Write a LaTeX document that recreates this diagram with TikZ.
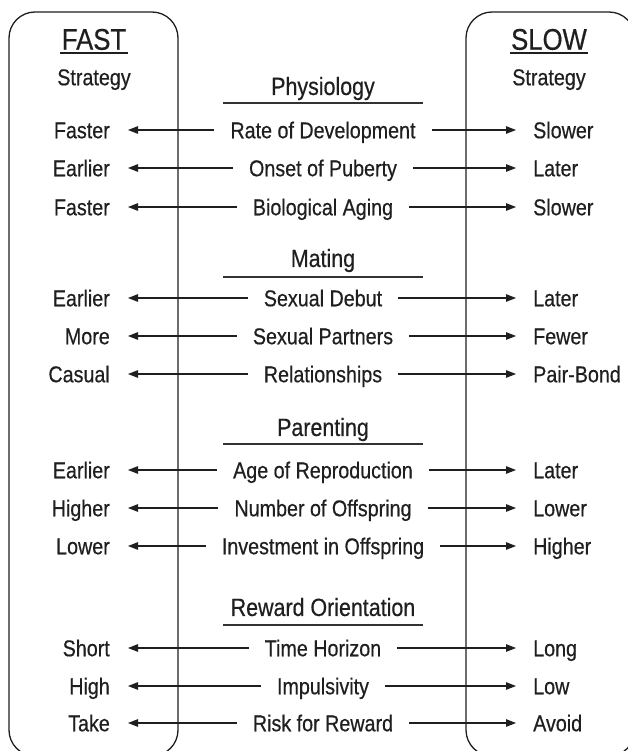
\documentclass[tikz,border=0pt]{standalone}
\usepackage{fontspec}
\setmainfont{Liberation Sans}[FakeStretch=0.86, FakeBold=0.5]
\usetikzlibrary{arrows.meta,positioning}

\begin{document}
\begin{tikzpicture}[x=1bp, y=-1bp,
    txt/.style={font=\fontsize{23}{27}\selectfont, text=black!88,
                text height=16.5bp, text depth=0pt, inner ysep=0pt},
    fastlbl/.style={txt, anchor=east, inner xsep=18bp},
    slowlbl/.style={txt, anchor=west, inner xsep=17bp},
    trait/.style={txt, inner xsep=16bp},
    hdr/.style={font=\fontsize{25}{29}\selectfont, text=black!88,
                text height=17.9bp, text depth=0pt, inner sep=0pt},
    colhead/.style={font=\fontsize{30}{34}\selectfont, text=black!88,
                text height=21.5bp, text depth=0pt, inner sep=0pt},
    arr/.style={-{Triangle[length=10bp,width=7.5bp]}, line width=1.1bp, black!88},
    panel/.style={draw, black!88, line width=1.3bp, rounded corners=26bp},
    rule/.style={line width=1.4bp, black!80}
]
\useasboundingbox (0,0) rectangle (628,751);

% --- Strategy panels ---
\draw[panel] (9,12) rectangle (178,756);
\draw[panel] (466,12) rectangle (635,756);

\node[colhead] (fast) at (94,39) {FAST};
\draw[line width=2.5bp, black!88] (60,53) -- (128,53);
\node[txt, inner sep=0pt] (fastsub) at (94,77) {Strategy};

\node[colhead] (slow) at (549,39) {SLOW};
\draw[line width=2.5bp, black!88] (510,53) -- (588,53);
\node[txt, inner sep=0pt] (slowsub) at (549,77) {Strategy};

% --- Physiology ---
\node[hdr] (physio) at (323,86) {Physiology};
\draw[rule] (223,103) -- (423,103);

\node[trait] (rate) at (323,130) {Rate of Development};
\node[fastlbl] (rateF) at (128,130) {Faster};
\node[slowlbl] (rateS) at (516,130) {Slower};
\draw[arr] (rate) -- (rateF);
\draw[arr] (rate) -- (rateS);

\node[trait] (onset) at (323,168) {Onset of Puberty};
\node[fastlbl] (onsetF) at (128,168) {Earlier};
\node[slowlbl] (onsetS) at (516,168) {Later};
\draw[arr] (onset) -- (onsetF);
\draw[arr] (onset) -- (onsetS);

\node[trait] (aging) at (323,207) {Biological Aging};
\node[fastlbl] (agingF) at (128,207) {Faster};
\node[slowlbl] (agingS) at (516,207) {Slower};
\draw[arr] (aging) -- (agingF);
\draw[arr] (aging) -- (agingS);

% --- Mating ---
\node[hdr] (mating) at (323,258) {Mating};
\draw[rule] (223,277) -- (423,277);

\node[trait] (debut) at (323,298) {Sexual Debut};
\node[fastlbl] (debutF) at (128,298) {Earlier};
\node[slowlbl] (debutS) at (516,298) {Later};
\draw[arr] (debut) -- (debutF);
\draw[arr] (debut) -- (debutS);

\node[trait] (partners) at (323,336) {Sexual Partners};
\node[fastlbl] (partnersF) at (128,336) {More};
\node[slowlbl] (partnersS) at (516,336) {Fewer};
\draw[arr] (partners) -- (partnersF);
\draw[arr] (partners) -- (partnersS);

\node[trait] (relat) at (323,374) {Relationships};
\node[fastlbl] (relatF) at (128,374) {Casual};
\node[slowlbl] (relatS) at (516,374) {Pair-Bond};
\draw[arr] (relat) -- (relatF);
\draw[arr] (relat) -- (relatS);

% --- Parenting ---
\node[hdr] (parent) at (323,427) {Parenting};
\draw[rule] (223,444) -- (423,444);

\node[trait] (age) at (323,470) {Age of Reproduction};
\node[fastlbl] (ageF) at (128,470) {Earlier};
\node[slowlbl] (ageS) at (516,470) {Later};
\draw[arr] (age) -- (ageF);
\draw[arr] (age) -- (ageS);

\node[trait] (number) at (323,508) {Number of Offspring};
\node[fastlbl] (numberF) at (128,508) {Higher};
\node[slowlbl] (numberS) at (516,508) {Lower};
\draw[arr] (number) -- (numberF);
\draw[arr] (number) -- (numberS);

\node[trait] (invest) at (323,546) {Investment in Offspring};
\node[fastlbl] (investF) at (128,546) {Lower};
\node[slowlbl] (investS) at (516,546) {Higher};
\draw[arr] (invest) -- (investF);
\draw[arr] (invest) -- (investS);

% --- Reward Orientation ---
\node[hdr] (reward) at (323,607) {Reward Orientation};
\draw[rule] (223,625) -- (423,625);

\node[trait] (horizon) at (323,648) {Time Horizon};
\node[fastlbl] (horizonF) at (128,648) {Short};
\node[slowlbl] (horizonS) at (516,648) {Long};
\draw[arr] (horizon) -- (horizonF);
\draw[arr] (horizon) -- (horizonS);

\node[trait] (impuls) at (323,686) {Impulsivity};
\node[fastlbl] (impulsF) at (128,686) {High};
\node[slowlbl] (impulsS) at (516,686) {Low};
\draw[arr] (impuls) -- (impulsF);
\draw[arr] (impuls) -- (impulsS);

\node[trait] (risk) at (323,723) {Risk for Reward};
\node[fastlbl] (riskF) at (128,723) {Take};
\node[slowlbl] (riskS) at (516,723) {Avoid};
\draw[arr] (risk) -- (riskF);
\draw[arr] (risk) -- (riskS);

\end{tikzpicture}
\end{document}
